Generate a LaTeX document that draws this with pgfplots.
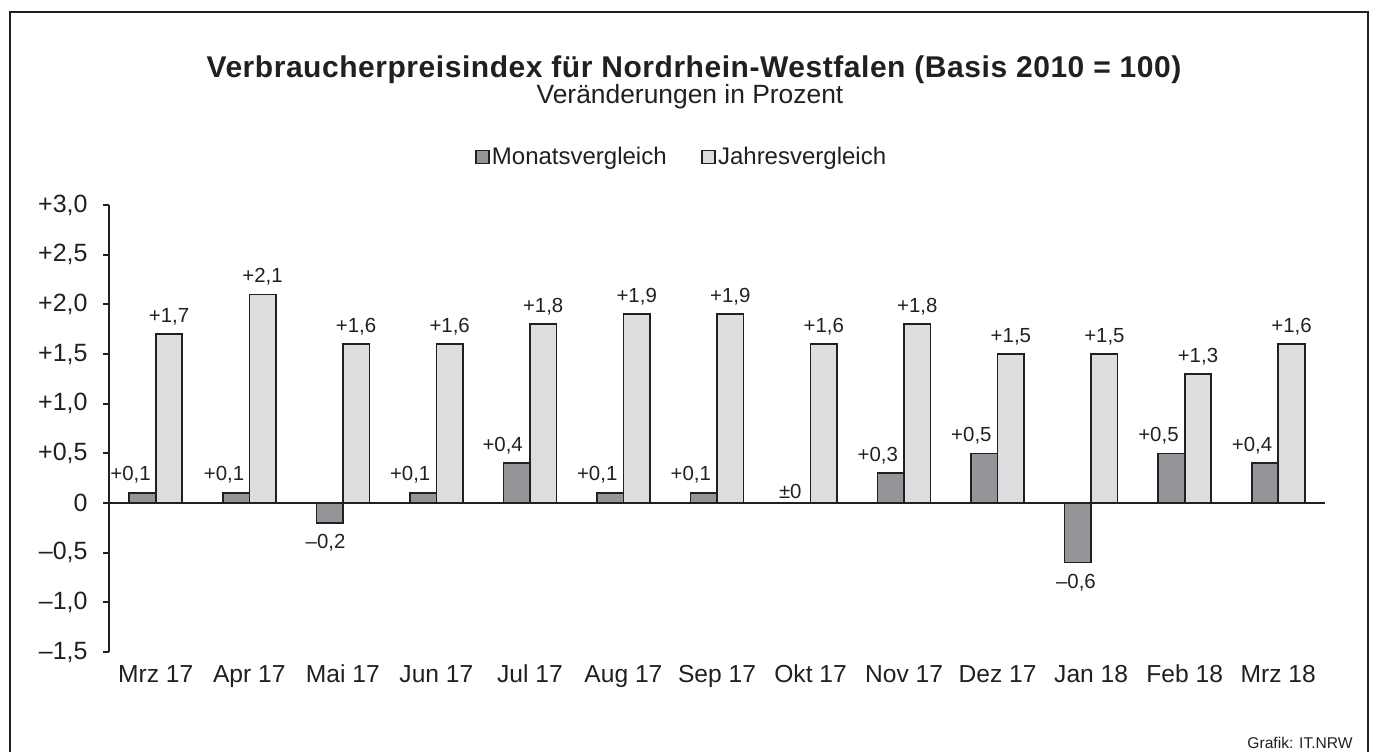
\documentclass[border=0pt]{standalone}
\usepackage{fontspec}
\setmainfont{Liberation Sans}
\newfontface\titlefont[LetterSpace=1.8]{Liberation Sans Bold}
\usepackage{pgfplots}
\pgfplotsset{compat=1.18}
\usepackage{pgfplotstable}
\definecolor{frame}{HTML}{231F20}
\definecolor{mgray}{HTML}{949599}
\definecolor{lgray}{HTML}{DCDDDE}

\pgfplotstableread{
x m ml mdx mdy j jl
0 0.1 +0,1 -6 9 1.7 +1,7
1 0.1 +0,1 -6 9 2.1 +2,1
2 -0.2 –0,2 -2 -10 1.6 +1,6
3 0.1 +0,1 -6.5 9 1.6 +1,6
4 0.4 +0,4 -7 9 1.8 +1,8
5 0.1 +0,1 -6.5 9 1.9 +1,9
6 0.1 +0,1 -6.5 9 1.9 +1,9
7 0 ±0 -3.5 6 1.6 +1,6
8 0.3 +0,3 -6.5 9 1.8 +1,8
9 0.5 +0,5 -6.5 9 1.5 +1,5
10 -0.6 –0,6 -1 -10 1.5 +1,5
11 0.5 +0,5 -6.5 9 1.3 +1,3
12 0.4 +0,4 -6.5 9 1.6 +1,6
}\data

\begin{document}
\begin{tikzpicture}
\path[use as bounding box] (0,0) rectangle (687pt,375.5pt);
\draw[frame, line width=1pt] (5pt,-2pt) -- (5pt,369.25pt) -- (684pt,369.25pt) -- (684pt,-2pt);
\node[anchor=base, inner sep=0pt, text=frame] at (347pt,336.75pt) {\fontsize{15}{17}\titlefont Verbraucherpreisindex für Nordrhein-Westfalen (Basis 2010 = 100)};
\node[anchor=base, inner sep=0pt, font=\fontsize{13.2}{16}\selectfont, text=frame] at (345pt,323.5pt) {Veränderungen in Prozent};
\node[anchor=base east, inner sep=0pt, font=\fontsize{7.8}{9}\selectfont, text=frame] at (676.5pt,1.5pt) {Grafik: IT.NRW};
\begin{axis}[
  at={(54.5pt,49.5pt)}, anchor=south west,
  scale only axis, width=608pt, height=223.5pt,
  xmin=-0.5, xmax=12.5, ymin=-1.5, ymax=3,
  ybar=0pt, bar width=13.25pt,
  axis y line*=left, axis x line*=bottom,
  x axis line style={draw=none},
  y axis line style={line width=1pt, frame},
  xtick={0,...,12},
  xticklabels={Mrz 17, Apr 17, Mai 17, Jun 17, Jul 17, Aug 17, Sep 17, Okt 17, Nov 17, Dez 17, Jan 18, Feb 18, Mrz 18},
  xtick style={draw=none},
  ytick={-1.5,-1,-0.5,0,0.5,1,1.5,2,2.5,3},
  yticklabels={{–1,5},{–1,0},{–0,5},0,{+0,5},{+1,0},{+1,5},{+2,0},{+2,5},{+3,0}},
  ytick style={line width=1pt, frame},
  tick align=outside, major tick length=3pt,
  yticklabel style={font=\fontsize{12.5}{15}\selectfont, text=frame, inner sep=0pt, xshift=-7.5pt},
  xticklabel style={font=\fontsize{12.3}{15}\selectfont, text=frame, inner sep=0pt, anchor=base, yshift=-12pt},
  clip=false,
  legend style={at={(0.471,1.107)}, anchor=center, draw=none, fill=none,
    font=\fontsize{12}{14}\selectfont, text=frame, legend columns=2,
    /tikz/every even column/.append style={column sep=16pt},
    nodes={inner sep=1.2pt}},
  legend image code/.code={\draw[#1, line width=0.8pt] (0pt,-3.25pt) rectangle (6.5pt,3.25pt);},
]
\addplot[fill=mgray, draw=frame, line width=0.8pt,
  nodes near coords, point meta=explicit symbolic,
  visualization depends on={\thisrow{mdx} \as \mdx},
  visualization depends on={\thisrow{mdy} \as \mdy},
  every node near coord/.append style={anchor=center, xshift=\mdx pt, yshift=\mdy pt, inner sep=0pt, font=\fontsize{10.2}{12}\selectfont, text=frame}]
  table[x=x, y=m, meta=ml] {\data};
\addlegendentry{Monatsvergleich}
\addplot[fill=lgray, draw=frame, line width=0.8pt,
  nodes near coords, point meta=explicit symbolic,
  every node near coord/.append style={anchor=center, yshift=8.75pt, inner sep=0pt, font=\fontsize{10.2}{12}\selectfont, text=frame}]
  table[x=x, y=j, meta=jl] {\data};
\addlegendentry{Jahresvergleich}
\draw[frame, line width=1pt] (axis cs:-0.5,0) -- (axis cs:12.5,0);
\end{axis}
\end{tikzpicture}
\end{document}
